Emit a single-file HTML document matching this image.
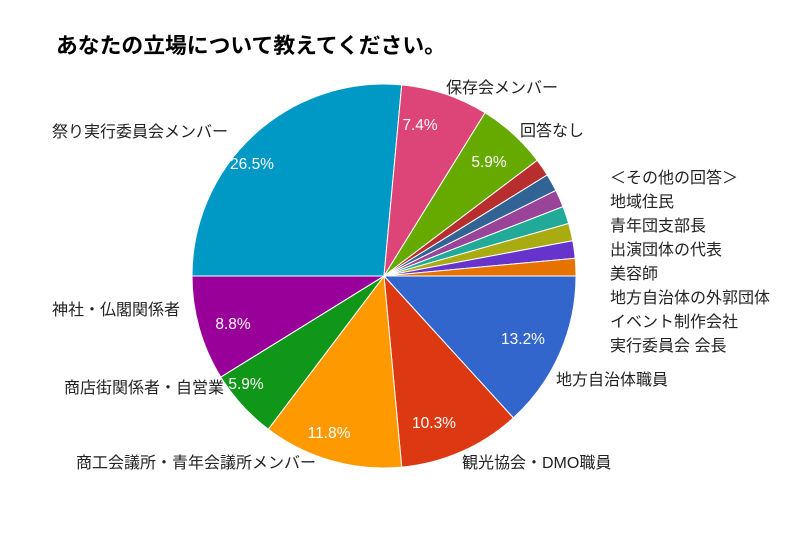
<!DOCTYPE html>
<html><head><meta charset="utf-8"><style>
body{margin:0;background:#fff;width:800px;height:533px;overflow:hidden}
svg text{font-family:"Liberation Sans","Noto Sans CJK JP",sans-serif}
</style></head><body>
<svg id="s" width="800" height="533" viewBox="0 0 800 533">
<rect width="800" height="533" fill="#fff"/>
<g id="pie"></g>
<text x="56" y="53" font-size="21.8" font-weight="bold" fill="#000">あなたの立場について教えてください。</text>
<g font-size="16" fill="#222">
<text x="446" y="93">保存会メンバー</text>
<text x="520" y="136">回答なし</text>
<text x="52" y="137">祭り実行委員会メンバー</text>
<text x="610" y="183">＜その他の回答＞</text>
<text x="610" y="207">地域住民</text>
<text x="610" y="231">青年団支部長</text>
<text x="610" y="255">出演団体の代表</text>
<text x="610" y="279">美容師</text>
<text x="610" y="303">地方自治体の外郭団体</text>
<text x="610" y="327">イベント制作会社</text>
<text x="610" y="351">実行委員会 会長</text>
<text x="52" y="315">神社・仏閣関係者</text>
<text x="556" y="385">地方自治体職員</text>
<text x="64" y="393">商店街関係者・自営業</text>
<text x="462" y="468">観光協会・DMO職員</text>
<text x="76" y="468">商工会議所・青年会議所メンバー</text>
</g>
<g font-size="15.5" fill="#fff" text-anchor="middle">
<text x="252" y="169">26.5%</text>
<text x="420" y="130">7.4%</text>
<text x="489" y="167">5.9%</text>
<text x="523" y="344">13.2%</text>
<text x="434" y="428">10.3%</text>
<text x="329" y="438">11.8%</text>
<text x="246" y="389">5.9%</text>
<text x="233" y="329">8.8%</text>
</g>
</svg>
<script>
var d=[[9,"#3366cc"],[7,"#dc3912"],[8,"#ff9900"],[4,"#109618"],[6,"#990099"],[18,"#0099c6"],[5,"#dd4477"],[4,"#66aa00"],[1,"#b82e2e"],[1,"#316395"],[1,"#994499"],[1,"#22aa99"],[1,"#aaaa11"],[1,"#6633cc"],[1,"#e67300"]];
var cx=384,cy=276,r=192,a=0,g=document.getElementById("pie"),h="";
d.forEach(function(e){var a0=a/68*2*Math.PI,a1=(a+e[0])/68*2*Math.PI;a+=e[0];
var x0=cx+r*Math.cos(a0),y0=cy+r*Math.sin(a0),x1=cx+r*Math.cos(a1),y1=cy+r*Math.sin(a1);
h+='<path d="M'+cx+' '+cy+'L'+x0+' '+y0+'A'+r+' '+r+' 0 '+(e[0]>34?1:0)+' 1 '+x1+' '+y1+'Z" fill="'+e[1]+'" stroke="#fff" stroke-width="1"/>';});
g.innerHTML=h;
</script>
</body></html>
